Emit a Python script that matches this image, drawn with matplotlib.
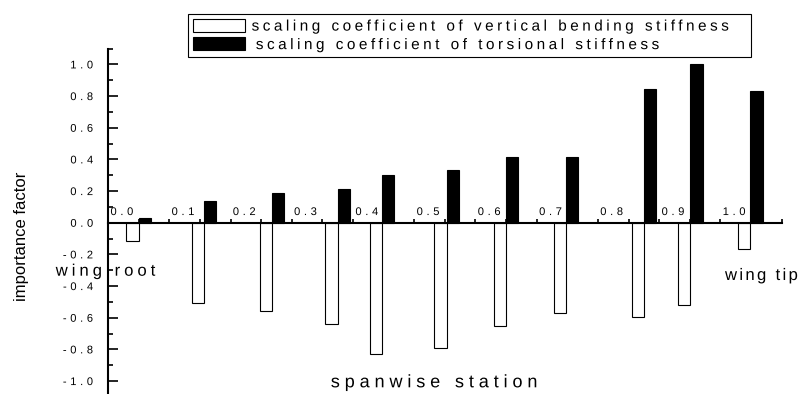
import numpy as np
import matplotlib
matplotlib.use("Agg")
import matplotlib.pyplot as plt
import matplotlib.transforms as mtransforms
from matplotlib.path import Path
from matplotlib import patheffects
from matplotlib.ticker import MultipleLocator

# ---------------- data ----------------
stations = [0.0, 0.107, 0.218, 0.325, 0.397, 0.503, 0.600, 0.698, 0.825, 0.901, 0.999]
bending = [-0.114, -0.509, -0.560, -0.640, -0.829, -0.793, -0.652, -0.572, -0.596, -0.520, -0.168]
torsional = [0.028, 0.139, 0.186, 0.211, 0.301, 0.333, 0.413, 0.417, 0.842, 1.002, 0.834]
x_tick_values = [0.0, 0.1, 0.2, 0.3, 0.4, 0.5, 0.6, 0.7, 0.8, 0.9, 1.0]
y_tick_values = [-1.0, -0.8, -0.6, -0.4, -0.2, 0.0, 0.2, 0.4, 0.6, 0.8, 1.0]
label_bending = "scaling coefficient of vertical bending stiffness"
label_torsional = " scaling coefficient of torsional stiffness"

plt.rcParams['font.family'] = ['Liberation Sans', 'DejaVu Sans']
plt.rcParams['axes.unicode_minus'] = False


class Tracking(patheffects.AbstractPathEffect):
    """Adds letter spacing to text drawn as a path (text string unchanged)."""

    def __init__(self, track_em, ha='left', spaces=False):
        super().__init__()
        self.track = track_em * 100.0  # TextPath font units per em
        self.ha = ha
        self.spaces = spaces

    def draw_path(self, renderer, gc, tpath, affine, rgbFace=None):
        verts = np.array(tpath.vertices, dtype=float)
        codes = tpath.codes
        if codes is None or len(verts) == 0:
            renderer.draw_path(gc, tpath, affine, rgbFace)
            return
        starts = np.flatnonzero(codes == Path.MOVETO)
        ends = list(starts[1:]) + [len(codes)]
        subs = []
        for s, e in zip(starts, ends):
            c = codes[s:e]
            v = verts[s:e]
            m = c != Path.CLOSEPOLY
            xs = v[m, 0] if m.any() else v[:, 0]
            subs.append((xs.min(), xs.max(), s, e))
        order = sorted(range(len(subs)), key=lambda i: subs[i][0])
        k = 0
        cur_max = None
        kmap = {}
        for i in order:
            x0, x1, s, e = subs[i]
            if cur_max is None:
                cur_max = x1
            elif x0 < cur_max - 1.0:
                cur_max = max(cur_max, x1)
            else:
                gap = x0 - cur_max
                k += 1 + (1 if (self.spaces and gap > 26) else 0)
                cur_max = x1
            kmap[i] = k
        if self.ha == 'center':
            base = -k / 2.0
        elif self.ha == 'right':
            base = -k
        else:
            base = 0.0
        new = verts.copy()
        for i, kk in kmap.items():
            s, e = subs[i][2], subs[i][3]
            new[s:e, 0] += (kk + base) * self.track
        renderer.draw_path(gc, Path(new, codes), affine, rgbFace)


W, H = 803, 394
fig = plt.figure(figsize=(W / 100, H / 100), dpi=100)
ax = fig.add_axes([108 / W, 0.0, 673.7 / W, 345.5 / H])

bar_w = 0.02
st = np.array(stations)
ax.bar(st - bar_w / 2, bending, width=bar_w, facecolor='white', edgecolor='black',
       linewidth=0.8, label=label_bending, zorder=2)
ax.bar(st + bar_w / 2, torsional, width=bar_w, facecolor='black', edgecolor='black',
       linewidth=0.8, label=label_torsional, zorder=2)

ax.set_xlim(-0.0501, 1.0501)
ax.set_ylim(-1.0818, 1.1005)

for side in ('top', 'right'):
    ax.spines[side].set_visible(False)
ax.spines['bottom'].set_position(('data', 0.0))
ax.spines['left'].set_linewidth(1.5)
ax.spines['bottom'].set_linewidth(1.5)

ax.tick_params(axis='y', which='major', direction='in', length=7.2, width=1.2,
               labelsize=8, pad=10.8)
ax.tick_params(axis='y', which='minor', direction='in', length=3.6, width=1.2)
ax.tick_params(axis='x', which='both', direction='in', length=2.6, width=1.2,
               labelsize=8, pad=0)

ax.set_yticks(y_tick_values)
ax.yaxis.set_minor_locator(MultipleLocator(0.1))
ax.set_xticks(x_tick_values)
ax.xaxis.set_minor_locator(MultipleLocator(0.05))

ax.set_xlabel("spanwise station", fontsize=13)
ax.xaxis.label.set_va('baseline')
ax.xaxis.set_label_coords((434 - 108) / 673.7, (394 - 387.3) / 345.5)
ax.xaxis.label.set_path_effects([Tracking(0.27, 'center', spaces=True)])

ax.set_ylabel("importance factor", fontsize=12)
ax.yaxis.label.set_va('center')
ax.yaxis.set_label_coords((21 - 108) / 673.7, (394 - 236) / 345.5)

t1 = fig.text(55.7 / W, 1 - 275.7 / H, "wing root", fontsize=12, ha='left', va='baseline')
t1.set_path_effects([Tracking(0.24, 'left', spaces=True)])
t2 = fig.text(725 / W, 1 - 280 / H, "wing tip", fontsize=12, ha='left', va='baseline')
t2.set_path_effects([Tracking(0.14, 'left', spaces=True)])

leg = fig.legend(loc='upper left',
                 bbox_to_anchor=(188.5 / W, 1 - 57.3 / H, 562.5 / W, 43 / H),
                 bbox_transform=fig.transFigure, mode='expand', borderaxespad=0,
                 fontsize=11, handlelength=3.4, handleheight=0.92, handletextpad=0.43,
                 labelspacing=0.25, borderpad=0.3, fancybox=False, framealpha=1,
                 edgecolor='black')
leg.get_frame().set_linewidth(0.8)
for t in leg.get_texts():
    t.set_path_effects([Tracking(0.23, 'left', spaces=True)])

# tick label styling (done last so it is not reset)
for t in ax.yaxis.get_major_ticks():
    t.label1.set_path_effects([Tracking(0.33, 'right')])
offset = mtransforms.ScaledTranslation(-5.6 / 100, 7.7 / 100, fig.dpi_scale_trans)
for t in ax.xaxis.get_major_ticks():
    t.label1.set_ha('right')
    t.label1.set_va('baseline')
    t.label1.set_transform(t.label1.get_transform() + offset)
    t.label1.set_path_effects([Tracking(0.33, 'right')])

fig.savefig("out.png", dpi=100)
